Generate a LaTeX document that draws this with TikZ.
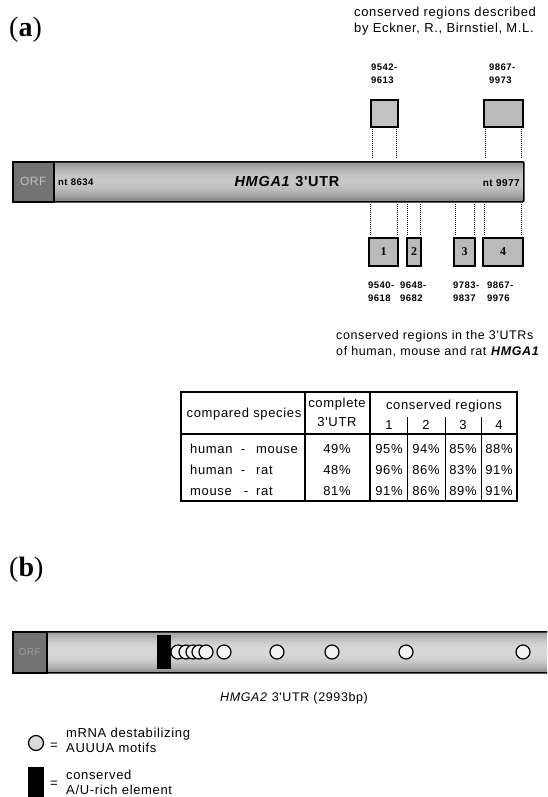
\documentclass[tikz,border=0pt]{standalone}
\usepackage{fontspec}
\newfontfamily\sfl{Liberation Sans}[LetterSpace=5]
\newfontfamily\srf{Liberation Serif}
\tikzset{
  txt/.style={inner sep=0, font=\sfl\fontsize{13}{15}\selectfont},
  num/.style={inner sep=0, font=\sfl\bfseries\fontsize{9.5}{12}\selectfont},
  cbox/.style={draw, line width=2, fill=black!27, inner sep=0, anchor=north west, font=\srf\bfseries\fontsize{12}{12}\selectfont},
  dots/.style={line width=0.8, dash pattern=on 0.9pt off 1.1pt, shorten <=1pt, shorten >=3pt},
  motif/.style={circle, draw, line width=1.2, fill=black!5, minimum size=14, inner sep=0},
  panel/.style={inner sep=0, font=\srf\fontsize{28}{30}\selectfont},
  tline/.style={line width=1.2}
}
\begin{document}
\begin{tikzpicture}[x=1pt,y=-1pt]
\clip (0,0) rectangle (547,797);
\fill[white] (0,0) rectangle (547,797);

% ---------------- panel (a)
\node[panel, anchor=base west] (pa) at (9,37) {(\textbf{a})};
\node[txt, anchor=base west] (src1) at (354,17) {conserved regions described};
\node[txt, anchor=base west] (src2) at (354,33) {by Eckner, R., Birnstiel, M.L.};

\node[num, anchor=base west] (n1a) at (371,71) {9542-};
\node[num, anchor=base west] (n1b) at (371,84) {9613};
\node[num, anchor=base west] (n2a) at (489,71) {9867-};
\node[num, anchor=base west] (n2b) at (489,84) {9973};

\node[cbox, minimum width=27, minimum height=27, fill=black!24] (ub1) at (370,99) {};
\node[cbox, minimum width=39, minimum height=27] (ub2) at (483,99) {};

% main bar: banded fill (dark edges, light middle)
\foreach \i in {0,...,19} {
  \pgfmathsetmacro\tt{abs(\i+0.5-10)/10}
  \pgfmathsetmacro\cc{22+26*\tt*\tt}
  \fill[black!\cc] (12,{161+2*\i}) rectangle (523,{163.2+2*\i});
}
\node[draw, line width=1.6, rounded corners=1, minimum width=511, minimum height=40, inner sep=0,
      anchor=north west] (bar1) at (12,161) {};
\node[draw, line width=1.6, minimum width=41, minimum height=40, inner sep=0, anchor=north west,
      fill=black!55, text=black!25, font=\sfl\fontsize{12}{12}\selectfont] (orf1) at (12,161) {ORF};
\node[num, anchor=base west] (nt1) at (58,185) {nt 8634};
\node[inner sep=0, anchor=base, font=\sfl\bfseries\fontsize{14.5}{15}\selectfont] (lab1) at (287,186) {\textit{HMGA1} 3'UTR};
\node[num, anchor=base east, font=\sfl\bfseries\fontsize{10}{12}\selectfont] (nt2) at (520,186) {nt 9977};

% lower boxes
\node[cbox, minimum width=29, minimum height=28] (lb1) at (368,237) {1};
\node[cbox, minimum width=14, minimum height=28] (lb2) at (406,237) {2};
\node[cbox, minimum width=21, minimum height=28] (lb3) at (453,237) {3};
\node[cbox, minimum width=40, minimum height=28] (lb4) at (482,237) {4};

% dotted connectors
\draw[dots] ([xshift=2pt]ub1.south west) -- ([xshift=2pt]ub1.south west |- bar1.north);
\draw[dots] ([xshift=-3pt]ub1.south east) -- ([xshift=-3pt]ub1.south east |- bar1.north);
\draw[dots] ([xshift=2pt]ub2.south west) -- ([xshift=2pt]ub2.south west |- bar1.north);
\draw[dots] ([xshift=-3pt]ub2.south east) -- ([xshift=-3pt]ub2.south east |- bar1.north);
\draw[dots] ([xshift=2pt]lb1.north west |- bar1.south) -- ([xshift=2pt]lb1.north west);
\draw[dots] ([xshift=-2pt]lb1.north east |- bar1.south) -- ([xshift=-2pt]lb1.north east);
\draw[dots] ([xshift=1pt]lb2.north west |- bar1.south) -- ([xshift=1pt]lb2.north west);
\draw[dots] ([xshift=-2pt]lb2.north east |- bar1.south) -- ([xshift=-2pt]lb2.north east);
\draw[dots] ([xshift=2pt]lb3.north west |- bar1.south) -- ([xshift=2pt]lb3.north west);
\draw[dots] ([xshift=-2pt]lb3.north east |- bar1.south) -- ([xshift=-2pt]lb3.north east);
\draw[dots] ([xshift=2pt]lb4.north west |- bar1.south) -- ([xshift=2pt]lb4.north west);
\draw[dots] ([xshift=-3pt]lb4.north east |- bar1.south) -- ([xshift=-3pt]lb4.north east);

\node[num, anchor=base west] (m1a) at (368,288) {9540-};
\node[num, anchor=base west] (m1b) at (368,301) {9618};
\node[num, anchor=base west] (m2a) at (400,288) {9648-};
\node[num, anchor=base west] (m2b) at (400,301) {9682};
\node[num, anchor=base west] (m3a) at (453,288) {9783-};
\node[num, anchor=base west] (m3b) at (453,301) {9837};
\node[num, anchor=base west] (m4a) at (487,288) {9867-};
\node[num, anchor=base west] (m4b) at (487,301) {9976};

\node[txt, anchor=base west, font=\sfl\fontsize{12.5}{15}\selectfont] (cr1) at (336,339) {conserved regions in the 3'UTRs};
\node[txt, anchor=base west, font=\sfl\fontsize{12.5}{15}\selectfont] (cr2) at (336,355) {of human, mouse and rat \textbf{\textit{HMGA1}}};

% table
\node[draw, line width=1.6, minimum width=336, minimum height=109, inner sep=0, anchor=north west] (tab) at (180,391) {};
\draw[line width=1.5] (tab.west |- 0,434) -- (tab.east |- 0,434);
\draw[tline] (305,391) -- (305,500);
\draw[tline] (370,391) -- (370,500);
\draw[line width=0.9] (407,417) -- (407,500);
\draw[line width=0.9] (445,417) -- (445,500);
\draw[line width=0.9] (481,417) -- (481,500);

\node[txt, anchor=base] (h1) at (244,417) {compared species};
\node[txt, anchor=base] (h2) at (337,407) {complete};
\node[txt, anchor=base] (h3) at (337,426) {3'UTR};
\node[txt, anchor=base] (h4) at (444,409) {conserved regions};
\node[txt, anchor=base] (c1) at (389,429) {1};
\node[txt, anchor=base] (c2) at (426,429) {2};
\node[txt, anchor=base] (c3) at (463,429) {3};
\node[txt, anchor=base] (c4) at (499,429) {4};

\node[txt, anchor=base west] (r1a) at (190,453) {human};
\node[txt, anchor=base] (r1b) at (243,453) {-};
\node[txt, anchor=base west] (r1c) at (256,453) {mouse};
\node[txt, anchor=base west] (r2a) at (190,474) {human};
\node[txt, anchor=base] (r2b) at (243,474) {-};
\node[txt, anchor=base west] (r2c) at (256,474) {rat};
\node[txt, anchor=base west] (r3a) at (190,495) {mouse};
\node[txt, anchor=base] (r3b) at (246,495) {-};
\node[txt, anchor=base west] (r3c) at (256,495) {rat};

\node[txt, anchor=base] (p11) at (337,453) {49\%};
\node[txt, anchor=base] (p12) at (389,453) {95\%};
\node[txt, anchor=base] (p13) at (426,453) {94\%};
\node[txt, anchor=base] (p14) at (463,453) {85\%};
\node[txt, anchor=base] (p15) at (499,453) {88\%};
\node[txt, anchor=base] (p21) at (337,474) {48\%};
\node[txt, anchor=base] (p22) at (389,474) {96\%};
\node[txt, anchor=base] (p23) at (426,474) {86\%};
\node[txt, anchor=base] (p24) at (463,474) {83\%};
\node[txt, anchor=base] (p25) at (499,474) {91\%};
\node[txt, anchor=base] (p31) at (337,495) {81\%};
\node[txt, anchor=base] (p32) at (389,495) {91\%};
\node[txt, anchor=base] (p33) at (426,495) {86\%};
\node[txt, anchor=base] (p34) at (463,495) {89\%};
\node[txt, anchor=base] (p35) at (499,495) {91\%};

% ---------------- panel (b)
\node[panel, anchor=base west] (pb) at (9,576) {(\textbf{b})};

\foreach \i in {0,...,19} {
  \pgfmathsetmacro\tt{abs(\i+0.5-10)/10}
  \pgfmathsetmacro\cc{15+28*\tt*\tt}
  \fill[black!\cc] (12,{631+2.05*\i}) rectangle (560,{633.3+2.05*\i});
}
\node[draw, line width=1.6, rounded corners=1, minimum width=560, minimum height=41, inner sep=0,
      anchor=north west] (bar2) at (12,631) {};
\node[draw, line width=1.6, minimum width=34, minimum height=41, inner sep=0, anchor=north west,
      fill=black!55, text=black!38, font=\sfl\fontsize{10}{10}\selectfont] (orf2) at (12,631) {ORF};
\node[fill=black, inner sep=0, minimum width=14, minimum height=34, anchor=north west] (are) at (157,635) {};

\node[motif] (a1) at (178,652) {};
\node[motif] (a2) at (186,652) {};
\node[motif] (a3) at (193,652) {};
\node[motif] (a4) at (199,652) {};
\node[motif] (a5) at (206,652) {};
\node[motif] (a6) at (224,652) {};
\node[motif] (a7) at (277,652) {};
\node[motif] (a8) at (332,652) {};
\node[motif] (a9) at (406,652) {};
\node[motif] (a10) at (523,652) {};

\node[txt, anchor=base west, font=\sfl\fontsize{12.5}{15}\selectfont] (lab2) at (220,701) {\textit{HMGA2} 3'UTR (2993bp)};

% legend
\node[motif, minimum size=15, fill=black!15] (lgc) at (36,743) {};
\node[txt, anchor=center] (eq1) at (54,746) {=};
\node[txt, anchor=base west] (lg1) at (66,737) {mRNA destabilizing};
\node[txt, anchor=base west] (lg2) at (66,752) {AUUUA motifs};
\node[fill=black, inner sep=0, minimum width=16, minimum height=32, anchor=north west] (lgr) at (28,767) {};
\node[txt, anchor=center] (eq2) at (54,784) {=};
\node[txt, anchor=base west] (lg3) at (66,779) {conserved};
\node[txt, anchor=base west] (lg4) at (66,794) {A/U-rich element};
\end{tikzpicture}
\end{document}
